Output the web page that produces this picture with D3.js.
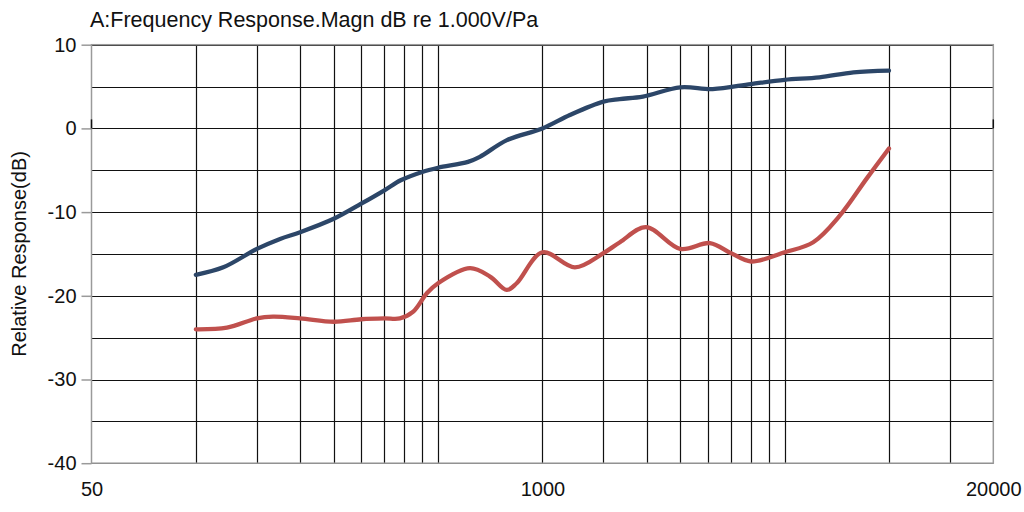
<!DOCTYPE html>
<html>
<head>
<meta charset="utf-8">
<script src="https://cdn.jsdelivr.net/npm/d3@7"></script>
<style>
  html, body { margin: 0; padding: 0; background: #fff; }
  svg { display: block; font-family: "Liberation Sans", Arial, sans-serif; }
</style>
</head>
<body>
<svg id="chart" width="1024" height="512"></svg>
<script>
// ---- data ----
const titleText = "A:Frequency Response.Magn dB re 1.000V/Pa";
const yAxisTitle = "Relative Response(dB)";
const xTickLabels = [50, 1000, 20000];
const yTickLabels = [10, 0, -10, -20, -30, -40];
const xGridFreqs = [100, 150, 200, 250, 300, 350, 400, 450, 500,
                    1000, 1500, 2000, 2500, 3000, 3500, 4000, 4500, 5000,
                    10000, 15000];
const yGridValues = [10, 5, 0, -5, -10, -15, -20, -25, -30, -35, -40];

const blueFreq = [100, 120, 150, 175, 200, 250, 300, 350, 390, 450, 500, 610, 660, 790,
                  1000, 1200, 1500, 1670, 1950, 2500, 3100, 4000, 5000, 6300, 7900, 10000];
const blueDb   = [-17.5, -16.6, -14.4, -13.2, -12.4, -10.8, -9.0, -7.4, -6.2, -5.2, -4.7, -4.0, -3.4, -1.4,
                  0.0, 1.6, 3.2, 3.5, 3.8, 4.9, 4.7, 5.3, 5.8, 6.1, 6.7, 6.9];

const redFreq = [100, 123, 150, 167, 200, 250, 300, 350, 388, 424, 464, 500, 618, 706, 789, 843,
                 1000, 1241, 1500, 1674, 1990, 2500, 3043, 3500, 4000, 5000, 6046, 7220, 8620, 10000];
const redDb   = [-24.0, -23.8, -22.7, -22.5, -22.7, -23.1, -22.8, -22.7, -22.7, -21.9, -19.7, -18.5, -16.7, -17.7, -19.3, -18.5,
                 -14.8, -16.6, -14.9, -13.6, -11.8, -14.4, -13.7, -14.9, -15.9, -14.8, -13.6, -10.4, -6.0, -2.4];

// ---- layout ----
const svg = d3.select("#chart");
const L = 91.5, R = 993.3, T = 44.7, B = 463.2;

const x = d3.scaleLog().domain([50, 20000]).range([L, R]);
const y = d3.scaleLinear().domain([-40, 10]).range([B, T]);

// horizontal grid
svg.append("g").selectAll("line").data(yGridValues).join("line")
  .attr("x1", L).attr("x2", R)
  .attr("y1", d => Math.round(y(d)) + 0.5).attr("y2", d => Math.round(y(d)) + 0.5)
  .attr("stroke", "#111").attr("stroke-width", 1.2);

// vertical grid
svg.append("g").selectAll("line").data(xGridFreqs).join("line")
  .attr("x1", d => Math.round(x(d)) + 0.5).attr("x2", d => Math.round(x(d)) + 0.5)
  .attr("y1", T).attr("y2", B)
  .attr("stroke", "#111").attr("stroke-width", 1.2);

// frame
svg.append("rect")
  .attr("x", L).attr("y", T).attr("width", R - L).attr("height", B - T)
  .attr("fill", "none").attr("stroke", "#9a9a9a").attr("stroke-width", 1.5);

// y axis ticks (left)
const yAxis = d3.axisLeft(y).tickValues(yTickLabels).tickSize(10).tickPadding(5)
  .tickFormat(d => String(d));
const gy = svg.append("g").attr("transform", `translate(${L},0)`).call(yAxis);
gy.select(".domain").remove();
gy.selectAll(".tick line").attr("stroke", "#9a9a9a").attr("stroke-width", 1.5);
gy.selectAll(".tick text").attr("font-size", 20).attr("fill", "#111")
  .attr("font-family", "Liberation Sans, Arial, sans-serif");

// small zero marks on left and right edges
svg.append("g").selectAll("line").data([L, R]).join("line")
  .attr("x1", d => d).attr("x2", d => d)
  .attr("y1", y(0) - 9).attr("y2", y(0))
  .attr("stroke", "#111").attr("stroke-width", 1.5);

// x axis labels
const xAxis = d3.axisBottom(x).tickValues(xTickLabels).tickSize(0).tickPadding(19)
  .tickFormat(d => String(d));
const gx = svg.append("g").attr("transform", `translate(0,${B})`).call(xAxis);
gx.select(".domain").remove();
gx.selectAll(".tick text").attr("font-size", 20).attr("fill", "#111")
  .attr("font-family", "Liberation Sans, Arial, sans-serif");

// lines
const line = d3.line().x(d => x(d[0])).y(d => y(d[1])).curve(d3.curveCatmullRom.alpha(0.5));
const blueData = blueFreq.map((f, i) => [f, blueDb[i]]);
const redData = redFreq.map((f, i) => [f, redDb[i]]);

svg.append("path").datum(redData).attr("d", line)
  .attr("fill", "none").attr("stroke", "#c0504d").attr("stroke-width", 4.3)
  .attr("stroke-linecap", "round").attr("stroke-linejoin", "round");
svg.append("path").datum(blueData).attr("d", line)
  .attr("fill", "none").attr("stroke", "#2c4668").attr("stroke-width", 4.3)
  .attr("stroke-linecap", "round").attr("stroke-linejoin", "round");

// title
svg.append("text").attr("x", 90).attr("y", 27)
  .attr("font-size", 21.5).attr("fill", "#111").text(titleText);

// y axis title
svg.append("text")
  .attr("transform", `translate(26,${(T + B) / 2}) rotate(-90)`)
  .attr("text-anchor", "middle").attr("font-size", 20).attr("fill", "#111")
  .text(yAxisTitle);
</script>
</body>
</html>
